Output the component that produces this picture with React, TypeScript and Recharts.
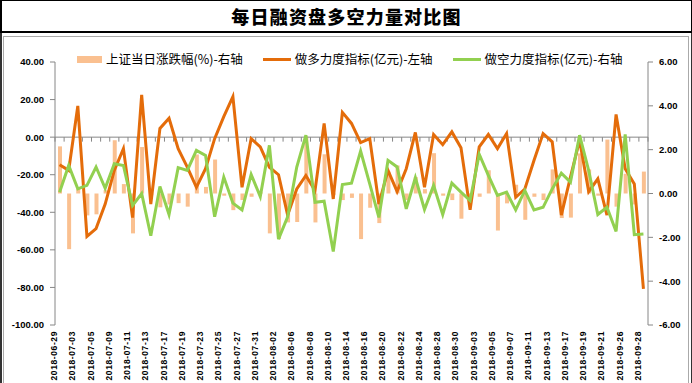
import React from 'react';
import { ComposedChart, Bar, Line, XAxis, YAxis, ReferenceLine, Legend } from 'recharts';

document.body.style.margin = '0';

// trading days, 2018-06-29 .. 2018-09-28
const DATES = [
  '2018-06-29',
  '2018-07-02', '2018-07-03', '2018-07-04', '2018-07-05', '2018-07-06',
  '2018-07-09', '2018-07-10', '2018-07-11', '2018-07-12', '2018-07-13',
  '2018-07-16', '2018-07-17', '2018-07-18', '2018-07-19', '2018-07-20',
  '2018-07-23', '2018-07-24', '2018-07-25', '2018-07-26', '2018-07-27',
  '2018-07-30', '2018-07-31', '2018-08-01', '2018-08-02', '2018-08-03',
  '2018-08-06', '2018-08-07', '2018-08-08', '2018-08-09', '2018-08-10',
  '2018-08-13', '2018-08-14', '2018-08-15', '2018-08-16', '2018-08-17',
  '2018-08-20', '2018-08-21', '2018-08-22', '2018-08-23', '2018-08-24',
  '2018-08-27', '2018-08-28', '2018-08-29', '2018-08-30', '2018-08-31',
  '2018-09-03', '2018-09-04', '2018-09-05', '2018-09-06', '2018-09-07',
  '2018-09-10', '2018-09-11', '2018-09-12', '2018-09-13', '2018-09-14',
  '2018-09-17', '2018-09-18', '2018-09-19', '2018-09-20', '2018-09-21',
  '2018-09-25', '2018-09-26', '2018-09-27', '2018-09-28',
];

// 上证当日涨跌幅 (%), right axis
const SH_CHANGE = [
  2.15, -2.54, 0.2, -1.0, -0.95, 0.15, 2.43, 0.43, -1.82, 2.12,
  -0.08, -0.63, -0.5, -0.44, -0.6, 1.78, 0.3, 1.55, -0.1, -0.76,
  -0.3, -0.15, 0.05, -1.82, -2.08, -1.32, -1.3, 2.6, -1.32, 1.79,
  -0.05, -0.3, -0.2, -2.08, -0.65, -1.35, 1.0, 1.28, -0.3, 0.75,
  0.2, 1.84, -0.1, -0.3, -1.15, -0.2, -0.15, 1.06, -1.69, -0.45,
  0.4, -1.2, -0.15, -0.3, 1.1, -1.12, -1.1, 1.83, 1.1, -0.1,
  2.46, -0.6, 0.9, -0.5, 1.0,
];

// 做多力度指标 (亿元), left axis
const LONG_POWER = [
  -14.7, -17.7, 16.6, -52.8, -48.7, -35.6, -17.7, -6.1, -42.8, 22.5,
  -35.6, 4.6, 10, -6.1, -16, -26.7, -16.8, -0.8, 10.9, 21.6,
  -26.7, -0.8, -5.2, -16, -20, -41.5, -27.6, -20.4, -28.5, 7.3,
  -32.9, 13.2, 7.3, -2.9, -0.8, -35.6, -17.7, -29, -16.8, 2.5,
  -26.7, 1.4, -4, 2.8, -5.7, -38.7, -5.2, 1.4, -6.1, 1.9,
  -32, -27.6, -12.4, 1.9, -2.5, -41.5, -21.3, -1.7, -29, -22.2,
  -41.5, 12.1, -16.8, -24.9, -80.8,
];

// 做空力度指标 (亿元), right axis
const SHORT_POWER = [
  0.06, 1.28, 0.21, 0.37, 1.21, 0.24, 1.36, 1.28, -0.55, 0,
  -1.93, 0.32, -0.96, 1.18, 1.05, 1.97, 1.74, -1.06, 0.75, -0.44,
  -0.75, 0.87, -0.14, 2.2, -2.08, -1.06, 1.21, 2.66, -0.4, -0.35,
  -2.65, 0.41, 0.47, 1.94, 0.44, -1.09, 1.51, 1.21, -0.7, 0.72,
  -0.73, 0.37, -0.96, 0.47, 0.06, -0.32, 1.79, 0.83, -0.09, 0.06,
  -0.75, 0.14, -0.75, -0.63, 0.21, 0.93, 0.52, 2.66, 1.05, -0.96,
  -0.63, -1.73, 2.7, -1.88, -1.85,
];

const LEFT_TICKS = [-100, -80, -60, -40, -20, 0, 20, 40];
const RIGHT_TICKS = [-6, -4, -2, 0, 2, 4, 6];

const TITLE = '每日融资盘多空力量对比图';

const AXIS = '#868686';
const CJK = '"Noto Sans CJK SC", "Noto Sans", sans-serif';
const LATIN = '"Liberation Sans", Arial, sans-serif';

function DateTick({ x, y, payload }: any) {
  return (
    <text
      x={x}
      y={y}
      dy={-2.5}
      transform={`rotate(-90, ${x}, ${y})`}
      textAnchor="end"
      fontSize={8.5}
      fontWeight="bold"
      letterSpacing={0.6}
      fontFamily={LATIN}
      fill="#000"
    >
      {payload.value}
    </text>
  );
}

function LegendContent({ payload }: any) {
  return (
    <div style={{ display: 'flex', alignItems: 'center', fontFamily: CJK, fontSize: 12.5, color: '#000', lineHeight: '18px' }}>
      {(payload || []).map((p: any) => (
        <div key={p.value} style={{ display: 'flex', alignItems: 'center', marginRight: 20 }}>
          {p.type === 'rect'
            ? <span style={{ display: 'inline-block', width: 25, height: 7, background: p.color }} />
            : <span style={{ display: 'inline-block', width: 28, height: 3, background: p.color }} />}
          <span style={{ marginLeft: 4 }}>{p.value}</span>
        </div>
      ))}
    </div>
  );
}

export default function App() {
  const data = DATES.map((d, i) => ({
    date: d,
    change: SH_CHANGE[i],
    long: LONG_POWER[i],
    short: SHORT_POWER[i],
  }));
  const last = DATES[DATES.length - 1];

  return (
    <div style={{ position: 'relative', width: 692, height: 383, background: '#fff', overflow: 'hidden' }}>
      <div style={{
        position: 'absolute', left: 0, top: 0, width: 692, height: 33, boxSizing: 'border-box',
        borderTop: '1px solid #000', borderLeft: '2px solid #000', borderRight: '1px solid #000', borderBottom: '2px solid #000',
        textAlign: 'center', fontFamily: CJK, fontWeight: 900, fontSize: 18, letterSpacing: 1.2, lineHeight: '30px', color: '#000',
      }}>
        {TITLE}
      </div>
      <div style={{
        position: 'absolute', left: 0, top: 33, width: 692, height: 350, boxSizing: 'border-box',
        borderLeft: '2px solid #333', borderRight: '1px solid #333',
      }} />
      <div style={{
        position: 'absolute', left: 3, top: 36, width: 686, height: 350, boxSizing: 'border-box',
        border: '1px solid #aaa',
      }} />
      <div style={{ position: 'absolute', left: 0, top: 0 }}>
        <ComposedChart width={692} height={383} data={data} margin={{ top: 62, right: 4, bottom: 0, left: 5 }} barCategoryGap={0}>
          <XAxis
            dataKey="date"
            interval={1}
            axisLine={false}
            tickLine={false}
            tickSize={0}
            tickMargin={6}
            height={58}
            tick={<DateTick />}
          />
          <YAxis
            yAxisId="left"
            orientation="left"
            width={50}
            domain={[-100, 40]}
            ticks={LEFT_TICKS}
            interval={0}
            tickFormatter={(v: number) => v.toFixed(2)}
            tick={{ fill: '#000', fontSize: 9.5, fontWeight: 'bold', fontFamily: LATIN }}
            axisLine={{ stroke: AXIS }}
            tickLine={{ stroke: AXIS }}
            tickSize={5}
            tickMargin={6}
          />
          <YAxis
            yAxisId="right"
            orientation="right"
            width={40}
            domain={[-6, 6]}
            ticks={RIGHT_TICKS}
            interval={0}
            tickFormatter={(v: number) => v.toFixed(2)}
            tick={{ fill: '#000', fontSize: 9.5, fontWeight: 'bold', fontFamily: LATIN, textAnchor: 'start' }}
            axisLine={{ stroke: AXIS }}
            tickLine={{ stroke: AXIS }}
            tickSize={5}
            tickMargin={6}
          />
          <ReferenceLine yAxisId="left" y={0} stroke={AXIS} strokeWidth={1} />
          {DATES.map(d => (
            <ReferenceLine
              key={d}
              yAxisId="left"
              position="start"
              segment={[{ x: d, y: 0 }, { x: d, y: -2.4 }]}
              stroke={AXIS}
            />
          ))}
          <ReferenceLine
            yAxisId="left"
            position="end"
            segment={[{ x: last, y: 0 }, { x: last, y: -2.4 }]}
            stroke={AXIS}
          />
          <Legend
            verticalAlign="middle"
            align="center"
            layout="horizontal"
            wrapperStyle={{ left: 77, top: 50, width: 600 }}
            content={<LegendContent />}
          />
          <Bar yAxisId="right" dataKey="change" name="上证当日涨跌幅(%)-右轴" fill="#FAC090" barSize={4} isAnimationActive={false} />
          <Line yAxisId="left" type="linear" dataKey="long" name="做多力度指标(亿元)-左轴" stroke="#E46C0A" strokeWidth={3} dot={false} activeDot={false} isAnimationActive={false} />
          <Line yAxisId="right" type="linear" dataKey="short" name="做空力度指标(亿元)-右轴" stroke="#92D050" strokeWidth={3} dot={false} activeDot={false} isAnimationActive={false} />
        </ComposedChart>
      </div>
    </div>
  );
}
